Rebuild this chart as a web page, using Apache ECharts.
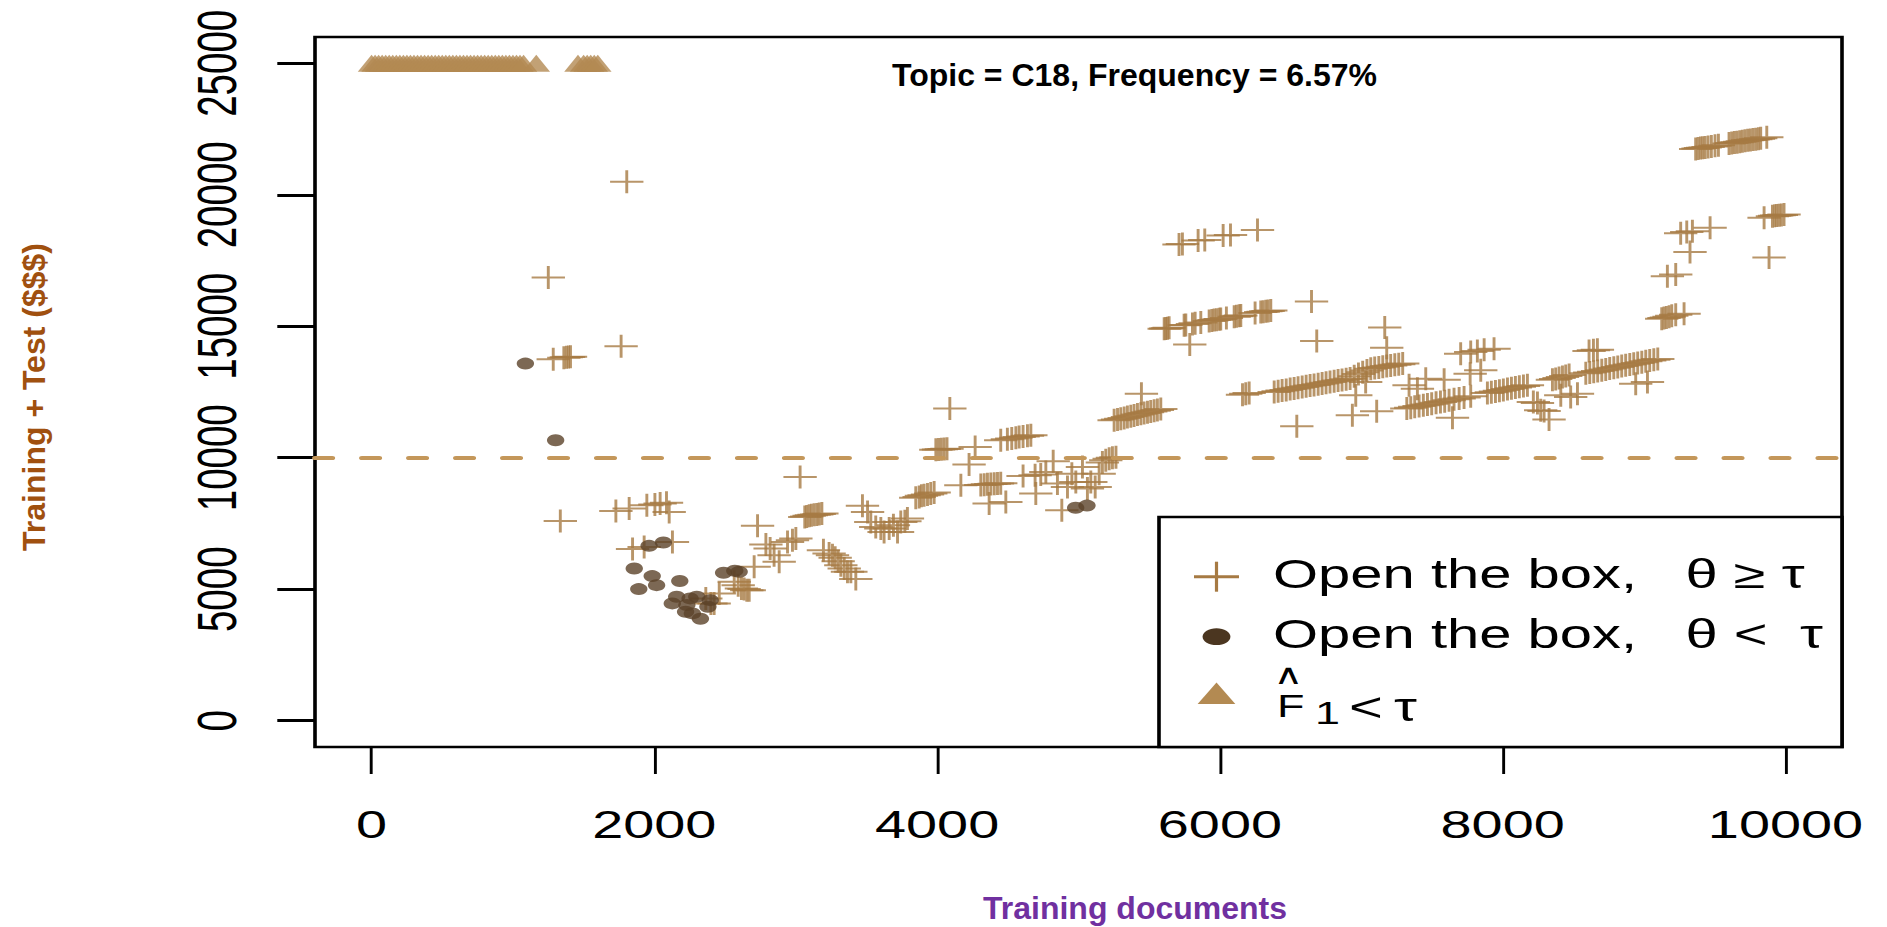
<!DOCTYPE html>
<html><head><meta charset="utf-8">
<script src="https://cdn.jsdelivr.net/npm/echarts@6/dist/echarts.min.js"></script>
<style>
html,body{margin:0;padding:0;background:#fff;overflow:hidden;width:1887px;height:927px;}
#wrap{width:1887px;height:927px;overflow:hidden;position:relative;}
#chart{position:absolute;left:0;top:0;width:1301.38px;height:927px;transform:scaleX(1.45);transform-origin:0 0;}
</style></head><body><div id="wrap"><div id="chart"></div></div>
<script>
// ---------- data ----------
const xTicks = [0, 2000, 4000, 6000, 8000, 10000];
const yTicks = [0, 5000, 10000, 15000, 20000, 25000];
const thresholdCost = 10000;
const lowF1Cost = 25000;

// "F1 < tau" points (all drawn at the top of the chart)
const lowF1Docs = [0,25,50,75,100,125,150,175,200,225,250,275,300,325,350,375,400,425,450,475,500,525,550,575,600,625,650,675,700,725,750,775,800,825,850,875,900,925,950,975,1000,1025,1050,1075,1165,1460,1500,1525,1550,1575,1600];

// "Open the box, theta >= tau" (plus markers), grouped by region
const plusEarly = [[1250,16850],[1805,20500],[1765,14240],[1285,13750],[1360,13800],[1378,13820],[1393,13830],[1407,13840],[1335,7590],
 [1728,7970],[1822,8070],[1947,8195],[2004,8220],[2041,8260],[2086,8285],[2105,7940],
 [1846,6525],[1928,6610],[2128,6800]];
const plusLow = [[2364,4650],[2400,4460],[2423,4460],
 [2459,4840],[2565,5280],[2593,5155],[2616,5030],[2635,5005],[2654,4965],[2671,4965],[2706,5850],[2730,7410],
 [2789,6700],[2819,6550],[2847,6295],[2883,6040],[2942,6800],[2977,6865],[3001,6930],
 [3031,9270],[3064,7750],[3078,7770],[3095,7790],[3111,7810],[3130,7830],[3149,7845],[3166,7860],[3185,7880],
 [3196,6485],[3236,6360],[3260,6295],[3279,6195],[3300,6065],[3319,5915],[3343,5790],[3366,5660],[3390,5660],[3425,5385],
 [3472,8170],[3508,7940],[3531,7560],[3566,7370],[3602,7310],[3625,7180],[3661,7310],[3691,7435],[3720,7180],[3743,7560],[3772,7585],[3790,7690],
 [3849,8475],[3873,8510],[3889,8550],[3908,8575],[3932,8600],[3955,8640],[3979,8675],
 [3991,10300],[4010,10310],[4030,10320],[4050,10330],[4070,10340]];
const plusMid = [[4090,11870],[4168,8955],[4226,9740],[4269,10410],
 [4309,8960],[4333,8975],[4356,8990],[4380,9000],[4404,9010],[4427,9020],[4450,9030],
 [4368,8260],[4486,8320],
 [4450,10665],[4497,10700],[4528,10730],[4557,10760],[4580,10790],[4608,10810],[4639,10835],[4663,10855],
 [4608,9310],[4693,9335],[4733,9360],[4769,9460],[4821,9865],[4851,9020],[4882,8005],[4922,8890],[4953,9395],[4981,9080],[5028,9650],[5063,8830],[5087,9080],[5118,8890],[5146,9395],[4698,8640],
 [5169,9815],[5193,9905],[5217,9965],[5240,10000],[5265,10020],
 [5252,11425],[5276,11455],[5299,11485],[5323,11515],[5346,11545],[5370,11575],[5393,11605],[5417,11640],[5441,11670],[5464,11700],[5488,11730],[5511,11760],[5535,11790],[5558,11820],[5582,11850],
 [5445,12435]];
const plusUpper = [[5711,18110],[5735,18130],[5846,18260],[5893,18285],[6023,18450],[6075,18475],[6266,18665],
 [5606,14905],[5617,14915],[5629,14925],[5641,14940],[5747,15035],[5759,15050],[5806,15090],[5825,15110],[5865,15145],[5924,15200],[5943,15215],[5959,15235],[5976,15250],[5995,15265],[6006,15275],[6046,15315],[6101,15365],[6117,15380],[6136,15395],[6148,15405],[6249,15500],[6289,15540],[6306,15555],[6325,15570],[6341,15585],[6360,15600],
 [6648,15945],[6685,14435],[5787,14310],
 [6160,12400],[6183,12435],[6207,12460],
 [6384,12500],[6412,12525],[6440,12555],[6469,12580],[6497,12610],[6525,12635],[6553,12660],[6582,12690],[6610,12715],[6638,12745],[6666,12770],[6695,12795],[6723,12825],[6751,12850],[6779,12880],[6808,12905],[6836,12935],[6864,12960],[6893,12985],[6921,13015],
 [6950,13100],[6980,13180],[7010,13250],[7040,13320],
 [7067,13385],[7095,13410],[7124,13435],[7152,13460],[7180,13485],[7208,13510],[7237,13535],[7265,13560],[7293,13580],
 [6544,11195],[6937,11615],[6961,12375],[7031,12880],
 [7166,14950],[7180,14180],[7109,11765]];
const plusLate = [[7703,13955],[7774,14020],[7821,14060],[7869,14110],[7939,14145],[7770,13195],[7845,13325],[7338,12755],[7397,12625],[7456,13005],[7586,12970],[7645,11525],
 [7322,11875],[7350,11905],[7378,11935],[7409,11965],[7439,11995],[7468,12025],[7498,12055],[7529,12090],[7560,12120],[7590,12150],[7621,12185],[7656,12220],[7692,12255],[7727,12295],[7774,12340],[7892,12460],[7920,12490],[7949,12520],[7977,12550],[8005,12580],[8034,12610],[8062,12640],[8090,12670],[8118,12695],[8147,12725],[8175,12755],
 [8217,12120],[8246,12085],[8269,11805],[8293,11780],[8328,11450],
 [8352,12970],[8375,12995],[8399,13030],[8423,13070],[8446,13110],[8470,13145],[8411,12375],[8529,12435],[8481,12310],
 [8611,14060],[8642,14085],[8670,14110],
 [8588,13210],[8616,13240],[8644,13270],[8672,13300],[8701,13330],[8729,13360],[8757,13390],[8786,13420],[8814,13455],[8842,13485],[8870,13515],[8899,13545],[8927,13575],[8955,13605],[8984,13635],[9012,13665],[9040,13695],[9069,13725],[9097,13755],
 [8941,12815],[9024,12880]];
const plusEnd = [[9125,15285],[9141,15310],[9158,15335],[9177,15360],[9196,15400],[9224,15440],[9283,15475],
 [9165,16905],[9224,16970],
 [9259,18540],[9302,18580],[9342,18615],[9467,18745],[9325,17820],
 [9365,21745],[9382,21760],[9399,21775],[9415,21785],[9432,21800],[9453,21820],[9476,21840],[9502,21865],[9526,21885],[9601,21950],[9620,21970],[9639,21985],[9658,22000],[9677,22015],[9695,22035],[9714,22050],[9733,22070],[9752,22085],[9771,22100],[9790,22115],[9809,22135],[9825,22150],[9868,22185],
 [9849,19125],[9908,19185],[9924,19200],[9938,19210],[9955,19225],[9971,19235],[9990,19250],
 [9884,17615]];

// "Open the box, theta < tau" (filled dots)
const dotPoints = [[1088,13580],[1302,10665],
 [1963,6650],[2064,6775],[1858,5790],[1985,5500],[2016,5155],[1890,5005],[2180,5310],[2158,4715],[2127,4460],[2253,4650],[2300,4715],[2379,4335],[2221,4145],[2269,4080],[2326,3875],[2395,4585],[2230,4400],[2490,5625],[2569,5700],[2600,5660],
 [4980,8100],[5060,8180]];

// ---------- chart ----------
const SX = 1.45;                 // horizontal stretch of the original figure
const PLUS = '#A67A43', DOT = '#5B4229', TRI = '#B38A52', DASH = '#C4975A';
const chart = echarts.init(document.getElementById('chart'), null, {renderer: 'svg', width: 1887 / SX, height: 927});

const plusData = [].concat(plusEarly, plusLow, plusMid, plusUpper, plusLate, plusEnd);
const triData = lowF1Docs.map(d => [d, lowF1Cost]);
const fontAxis = 'Liberation Sans, Arial, sans-serif';
const plain = v => String(v);

function txt(o) { // helper for graphic texts
  return Object.assign({type: 'text', z: 100, silent: true}, o, {
    style: Object.assign({fill: '#000', textAlign: 'left', align: 'left', textVerticalAlign: 'middle', verticalAlign: 'middle'}, o.style)
  });
}

const option = {
  animation: false,
  backgroundColor: '#fff',
  grid: {left: 315 / SX, top: 37, width: 1527 / SX, height: 710, show: true, borderColor: '#000', borderWidth: 2.5, backgroundColor: 'transparent'},
  xAxis: {
    type: 'value', min: -400, max: 10400,
    axisLine: {show: false, onZero: false}, splitLine: {show: false},
    axisTick: {show: true, customValues: xTicks, length: 27, lineStyle: {color: '#000', width: 2}},
    axisLabel: {customValues: xTicks, formatter: plain, fontSize: 38.5, fontFamily: fontAxis, color: '#000', margin: 58}
  },
  yAxis: {
    type: 'value', min: -1000, max: 26000,
    axisLine: {show: false, onZero: false}, splitLine: {show: false},
    axisTick: {show: true, customValues: yTicks, length: 26, lineStyle: {color: '#000', width: 3}},
    axisLabel: {customValues: yTicks, formatter: plain, rotate: 90, fontSize: 38.5, fontFamily: fontAxis, color: '#000', margin: 48}
  },
  series: [
    {name: 'Open the box, θ ≥ τ', type: 'scatter', z: 2, data: plusData,
     symbol: 'path://M10,0L10,20M0,10L20,10', symbolSize: 23,
     itemStyle: {color: PLUS, borderColor: PLUS, borderWidth: 2}},
    {name: 'Open the box, θ < τ', type: 'scatter', z: 3, data: dotPoints,
     symbol: 'circle', symbolSize: 12, itemStyle: {color: DOT},
     markLine: {silent: true, symbol: 'none', label: {show: false},
       lineStyle: {color: DASH, width: 4, type: [11.9, 20.5], cap: 'round'},
       data: [{yAxis: thresholdCost}]}},
    {name: 'F1 < τ', type: 'scatter', z: 2, data: triData,
     symbol: 'triangle', symbolSize: [19, 17], itemStyle: {color: TRI}}
  ],
  graphic: [
    // title and axis names (drawn un-stretched)
    txt({x: 1134.5 / SX, y: 75, scaleX: 1 / SX, style: {text: 'Topic = C18, Frequency = 6.57%', font: 'bold 32px "Liberation Sans", Arial, sans-serif', textAlign: 'center', align: 'center'}}),
    txt({x: 1135 / SX, y: 908.5, scaleX: 1 / SX, style: {text: 'Training documents', fill: '#7030A0', font: 'bold 32px "Liberation Sans", Arial, sans-serif', textAlign: 'center', align: 'center'}}),
    txt({x: 34 / SX, y: 397, rotation: Math.PI / 2, scaleY: 1 / SX, style: {text: 'Training + Test ($$$)', fill: '#A0500F', font: 'bold 32px "Liberation Sans", Arial, sans-serif', textAlign: 'center', align: 'center'}}),
    // legend
    {type: 'rect', z: 99, silent: true, shape: {x: 1159 / SX, y: 517, width: (1842 - 1159) / SX, height: 230}, style: {fill: '#fff', stroke: '#000', lineWidth: 2.5}},
    {type: 'line', z: 100, silent: true, shape: {x1: (1216.5 - 22.5) / SX, y1: 576.7, x2: (1216.5 + 22.5) / SX, y2: 576.7}, style: {stroke: PLUS, lineWidth: 3}},
    {type: 'line', z: 100, silent: true, shape: {x1: 1216.5 / SX, y1: 561.7, x2: 1216.5 / SX, y2: 591.7}, style: {stroke: PLUS, lineWidth: 2.2}},
    txt({x: 1273 / SX, y: 574, style: {text: 'Open the box,   θ ≥ τ', font: '40px "Liberation Sans", Arial, sans-serif'}}),
    {type: 'ellipse', z: 100, silent: true, shape: {cx: 1216.5 / SX, cy: 636.7, rx: 9.6, ry: 8.4}, style: {fill: '#4B3620'}},
    txt({x: 1273 / SX, y: 634, style: {text: 'Open the box,   θ <  τ', font: '40px "Liberation Sans", Arial, sans-serif'}}),
    {type: 'polygon', z: 100, silent: true, shape: {points: [[1216.5 / SX, 682.5], [1216.5 / SX - 13, 704], [1216.5 / SX + 13, 704]]}, style: {fill: TRI}},
    txt({x: 888.5, y: 674.5, style: {text: '∧', font: '28px "DejaVu Sans", sans-serif', textAlign: 'center', align: 'center'}}),
    txt({x: 1277 / SX, y: 706, style: {text: 'F', font: '31px "Liberation Sans", Arial, sans-serif'}}),
    txt({x: 1315 / SX, y: 713.5, style: {text: '1', font: '31px "Liberation Sans", Arial, sans-serif'}}),
    txt({x: 1349 / SX, y: 707.5, style: {text: '<', font: '40px "Liberation Sans", Arial, sans-serif'}}),
    txt({x: 1394 / SX, y: 707.5, style: {text: 'τ', font: '40px "Liberation Sans", Arial, sans-serif'}})
  ]
};
chart.setOption(option);
</script>
</body></html>
